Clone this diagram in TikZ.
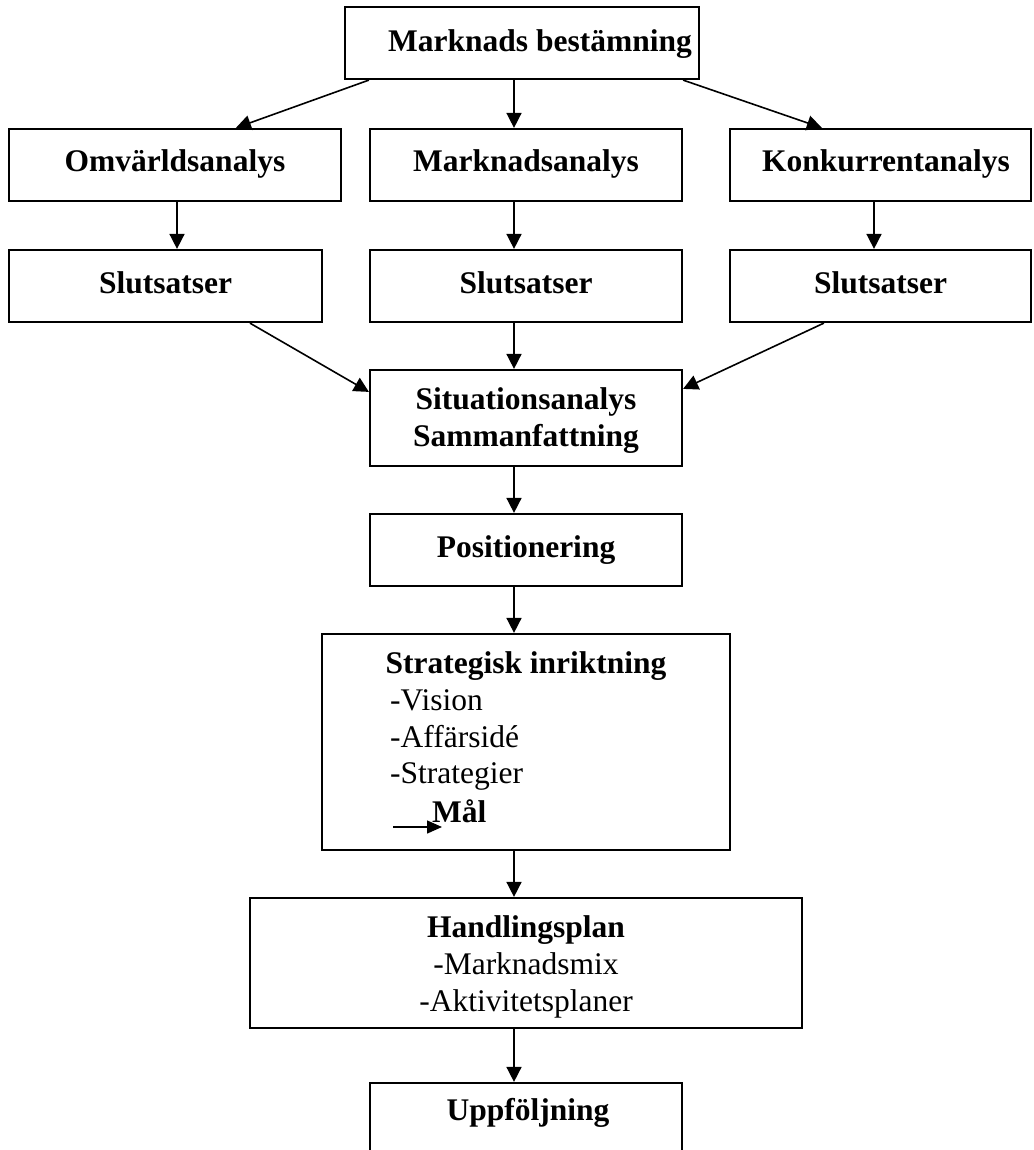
\documentclass[tikz,border=0pt]{standalone}
\usepackage{fontspec}
\setmainfont{Liberation Serif}
\usetikzlibrary{arrows.meta,calc}
\begin{document}
\begin{tikzpicture}[x=1pt,y=-1pt,
  box/.style={draw, line width=2.2pt, inner sep=0pt, text height=22pt, text depth=8pt,
              font=\fontsize{31.5}{37}\selectfont\bfseries},
  txt/.style={inner sep=0pt, font=\fontsize{31.5}{37}\selectfont},
  btxt/.style={inner sep=0pt, font=\fontsize{31.5}{37}\selectfont\bfseries},
  arr/.style={line width=1.6pt, -{Triangle[length=15pt,width=15pt]}},
  arrsmall/.style={line width=1.5pt, -{Triangle[length=15pt,width=13pt]}},
]
\useasboundingbox (0,0) rectangle (1033,1150);
\fill[white] (0,0) rectangle (1033,1150);
\clip (0,0) rectangle (1033,1150);

% top
\node[box, minimum width=354pt, minimum height=72pt] (top) at (522,43) {};
\node[btxt, anchor=base] (toptxt) at (540,52) {Marknads bestämning};

% row 2
\node[box, minimum width=332pt, minimum height=72pt] (omv) at (175,165) {Omvärldsanalys};
\node[box, minimum width=312pt, minimum height=72pt] (mark) at (526,165) {Marknadsanalys};
\node[box, minimum width=301pt, minimum height=72pt] (konk) at (880.5,165) {};
\node[btxt, anchor=base] (konktxt) at (886,172) {Konkurrentanalys};

% row 3
\node[box, minimum width=313pt, minimum height=72pt] (s1) at (165.5,286) {Slutsatser};
\node[box, minimum width=312pt, minimum height=72pt] (s2) at (526,286) {Slutsatser};
\node[box, minimum width=301pt, minimum height=72pt] (s3) at (880.5,286) {Slutsatser};

% situation
\node[box, minimum width=312pt, minimum height=96pt] (sit) at (526,418) {};
\node[btxt, anchor=base] (sitA) at (526,409) {Situationsanalys};
\node[btxt, anchor=base] (sitB) at (526,446) {Sammanfattning};

% positionering
\node[box, minimum width=312pt, minimum height=72pt] (pos) at (526,550) {Positionering};

% strategisk
\node[box, minimum width=408pt, minimum height=216pt] (strat) at (526,742) {};
\node[btxt, anchor=base] (stA) at (526,673) {Strategisk inriktning};
\node[txt, anchor=base west] (stB) at (390,710) {-Vision};
\node[txt, anchor=base west] (stC) at (390,747) {-Affärsidé};
\node[txt, anchor=base west] (stD) at (390,783) {-Strategier};
\node[btxt, anchor=base west] (stE) at (432,822) {Mål};
\coordinate (ma) at (393,827);
\coordinate (mb) at (442,827);
\draw[arrsmall] (ma) -- (mb);

% handlingsplan
\node[box, minimum width=552pt, minimum height=130pt] (hand) at (526,963) {};
\node[btxt, anchor=base] (hA) at (526,937) {Handlingsplan};
\node[txt, anchor=base] (hB) at (526,974) {-Marknadsmix};
\node[txt, anchor=base] (hC) at (526,1011) {-Aktivitetsplaner};

% uppfoljning
\node[box, minimum width=312pt, minimum height=90pt] (upp) at (526,1128) {};
\node[btxt, anchor=base] (uA) at (528,1120) {Uppföljning};

% connectors
\draw[arr] ($(top.south west)+(25,0)$) -- ($(omv.north west)+(228,0)$);
\draw[arr] ($(top.south)+(-8,0)$) -- ($(mark.north)+(-12,0)$);
\draw[arr] ($(top.south east)+(-17,0)$) -- ($(konk.north west)+(93,0)$);

\draw[arr] ($(omv.south)+(2,0)$) -- ($(s1.north)+(11.5,0)$);
\draw[arr] ($(mark.south)+(-12,0)$) -- ($(s2.north)+(-12,0)$);
\draw[arr] ($(konk.south)+(-6.5,0)$) -- ($(s3.north)+(-6.5,0)$);

\draw[arr] ($(s1.south west)+(242,0)$) -- ($(sit.north west)+(0,23)$);
\draw[arr] ($(s2.south)+(-12,0)$) -- ($(sit.north)+(-12,0)$);
\draw[arr] ($(s3.south west)+(95,0)$) -- ($(sit.north east)+(0,20)$);

\draw[arr] ($(sit.south)+(-12,0)$) -- ($(pos.north)+(-12,0)$);
\draw[arr] ($(pos.south)+(-12,0)$) -- ($(strat.north)+(-12,0)$);
\draw[arr] ($(strat.south)+(-12,0)$) -- ($(hand.north)+(-12,0)$);
\draw[arr] ($(hand.south)+(-12,0)$) -- ($(upp.north)+(-12,0)$);
\end{tikzpicture}
\end{document}
